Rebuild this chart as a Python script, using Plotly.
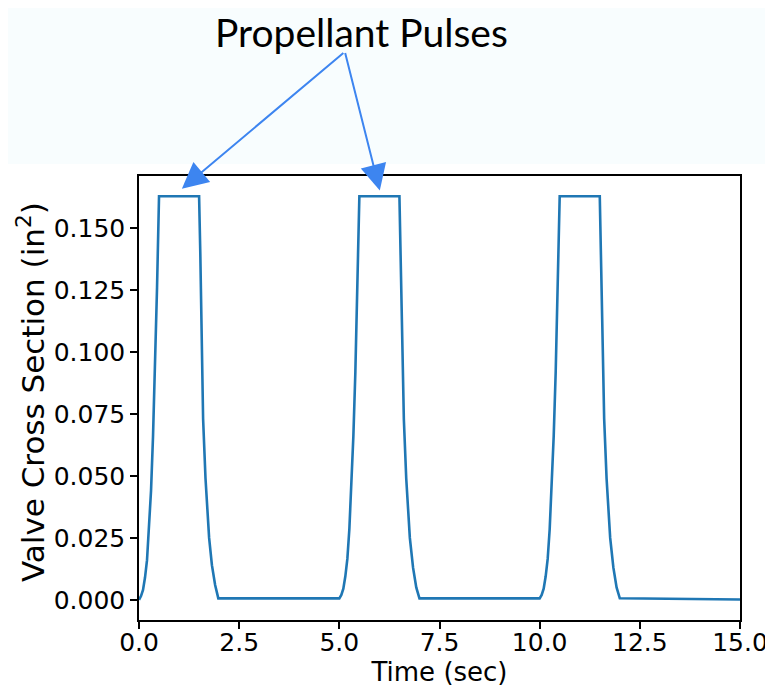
import plotly.graph_objects as go

# Time (sec) and valve cross section (in^2)
time_sec = [
    0.0, 0.05, 0.1, 0.15, 0.2, 0.25, 0.3, 0.35, 0.4, 0.45, 0.5,
    1.5, 1.53, 1.56, 1.6, 1.66, 1.75, 1.82, 1.9, 1.98,
    5.0, 5.05, 5.1, 5.15, 5.2, 5.25, 5.3, 5.35, 5.4, 5.45, 5.5,
    6.5, 6.54, 6.57, 6.61, 6.67, 6.76, 6.84, 6.92, 7.0,
    10.0, 10.05, 10.1, 10.15, 10.2, 10.25, 10.3, 10.35, 10.4, 10.45, 10.5,
    11.5, 11.54, 11.57, 11.61, 11.67, 11.76, 11.84, 11.92, 12.0,
    15.0,
]
valve_area = [
    0.0, 0.0015, 0.004, 0.009, 0.016, 0.028, 0.044, 0.066, 0.092, 0.126, 0.163,
    0.163, 0.14, 0.105, 0.073, 0.049, 0.025, 0.014, 0.006, 0.0006,
    0.0006, 0.002, 0.0045, 0.0095, 0.0165, 0.0285, 0.0445, 0.066, 0.092, 0.126, 0.163,
    0.163, 0.13, 0.105, 0.073, 0.049, 0.025, 0.013, 0.005, 0.0006,
    0.0006, 0.002, 0.0045, 0.0095, 0.0165, 0.0285, 0.0445, 0.066, 0.092, 0.126, 0.163,
    0.163, 0.13, 0.105, 0.073, 0.049, 0.025, 0.013, 0.005, 0.0006,
    0.0001,
]

x_ticks = [0, 2.5, 5, 7.5, 10, 12.5, 15]
x_tick_labels = ["0.0", "2.5", "5.0", "7.5", "10.0", "12.5", "15.0"]
y_ticks = [0, 0.025, 0.05, 0.075, 0.1, 0.125, 0.15]
y_tick_labels = ["0.000", "0.025", "0.050", "0.075", "0.100", "0.125", "0.150"]

x_title = "Time (sec)"
y_title = "Valve Cross Section (in<sup>2</sup>)"
annotation_text = "Propellant Pulses"
arrow_targets_x = [1.07, 6.01]
arrow_targets_y = [0.166, 0.1653]

fig = go.Figure()
fig.add_trace(go.Scatter(
    x=time_sec, y=valve_area, mode="lines",
    line=dict(color="#1f77b4", width=2.6),
    showlegend=False,
))

axis_common = dict(
    showline=True, linecolor="black", linewidth=1.5, mirror=True,
    ticks="outside", ticklen=7, tickwidth=1.5, tickcolor="black",
    showgrid=False, zeroline=False, automargin=False,
    tickfont=dict(family="DejaVu Sans", size=25, color="black"),
)

fig.update_layout(
    width=765, height=683,
    margin=dict(l=131, r=33, t=168, b=71),
    paper_bgcolor="white", plot_bgcolor="white",
    xaxis=dict(range=[0, 15], tickvals=x_ticks, ticktext=x_tick_labels,
               ticklabelstandoff=-8,
               title=dict(text=x_title, standoff=0,
                          font=dict(family="DejaVu Sans", size=26, color="black")),
               **axis_common),
    yaxis=dict(range=[-0.00815, 0.17115], tickvals=y_ticks, ticktext=y_tick_labels,
               **axis_common),
)

# y axis title placed as rotated text
fig.add_annotation(
    text=y_title, xref="paper", yref="paper", textangle=-90,
    x=-0.1797, y=0.5135, xanchor="center", yanchor="middle", borderpad=0,
    showarrow=False, font=dict(family="DejaVu Sans", size=31, color="black"),
)

# faint tinted band at the top of the picture
fig.add_shape(type="rect", xref="paper", yref="paper",
              x0=-0.3, x1=1.1, y0=1.027, y1=1.45,
              fillcolor="#f8fdfe", line=dict(width=0), layer="below")

fig.add_annotation(
    text=annotation_text, xref="paper", yref="paper",
    x=0.37, y=1.324, xanchor="center", yanchor="middle", borderpad=0,
    showarrow=False, font=dict(family="Lato", size=39, color="black"),
)

tail_px = (345, 52)
tip_px = [(182, 189), (380, 191)]
for tx, ty, (px, py) in zip(arrow_targets_x, arrow_targets_y, tip_px):
    fig.add_annotation(
        x=tx, y=ty, xref="x", yref="y", text="",
        showarrow=True, axref="pixel", ayref="pixel",
        ax=tail_px[0] - px, ay=tail_px[1] - py,
        arrowhead=2, arrowsize=2.6, arrowwidth=2, arrowcolor="#3d85f0",
    )

fig.write_html("out.html")
